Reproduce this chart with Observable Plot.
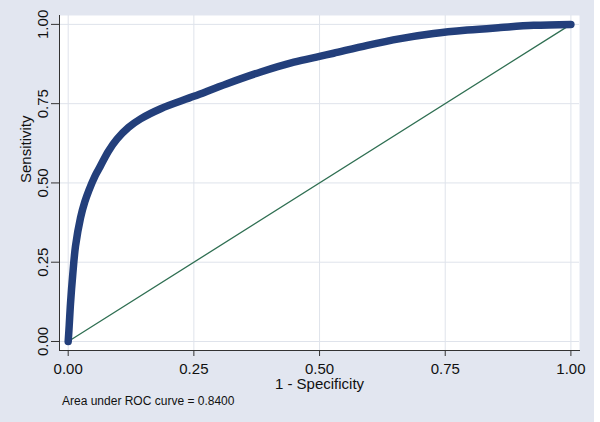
<!DOCTYPE html>
<html>
<head>
<meta charset="utf-8">
<script src="https://cdn.jsdelivr.net/npm/d3@7"></script>
<script src="https://cdn.jsdelivr.net/npm/@observablehq/plot@0.6"></script>
<style>
  html, body { margin: 0; padding: 0; background: #ffffff; }
  #fig { width: 594px; height: 422px; background: #e2e6f0; position: relative; overflow: hidden;
         font-family: "Liberation Sans", Arial, Helvetica, sans-serif; }
  #fig svg { display: block; }
  #caption { margin: 2.3px 0 0 62px; font-size: 12px; line-height: 14px; color: #111; white-space: pre; }
</style>
</head>
<body>
<div id="fig"></div>
<script>
// ROC curve: 1 - specificity (false positive rate) vs sensitivity
const fpr = [0, 0.002, 0.0046, 0.009, 0.0145, 0.0245, 0.033, 0.041, 0.054, 0.064, 0.08, 0.097, 0.12, 0.144, 0.184, 0.25, 0.316, 0.383, 0.449, 0.5, 0.528, 0.595, 0.661, 0.727, 0.794, 0.86, 0.926, 1];
const tpr = [0, 0.05, 0.12, 0.21, 0.30, 0.39, 0.44, 0.476, 0.524, 0.553, 0.60, 0.638, 0.675, 0.702, 0.734, 0.773, 0.813, 0.85, 0.881, 0.899, 0.909, 0.934, 0.955, 0.971, 0.982, 0.990, 0.997, 1];
// reference (chance) line
const refX = [0, 1];
const refY = [0, 1];
// ticks
const tickValues = [0, 0.25, 0.5, 0.75, 1];
const tickLabels = ["0.00", "0.25", "0.50", "0.75", "1.00"];
const xTitle = "1 - Specificity";
const yTitle = "Sensitivity";
const caption = "Area under ROC curve = 0.8400";

const roc = fpr.map((x, i) => ({x, y: tpr[i]}));
const ref = refX.map((x, i) => ({x, y: refY[i]}));
const fmt = d => tickLabels[tickValues.indexOf(d)];

const chart = Plot.plot({
  width: 594,
  height: 392,
  marginLeft: 59,
  marginRight: 15,
  marginTop: 15,
  marginBottom: 42,
  style: {background: "transparent", fontFamily: '"Liberation Sans", Arial, Helvetica, sans-serif', fontSize: "15px", color: "#111"},
  x: {domain: [-0.0173, 1.0171]},
  y: {domain: [-0.0284, 1.028]},
  marks: [
    Plot.frame({fill: "white", stroke: "none"}),
    Plot.gridX(tickValues, {stroke: "#dfe3eb", strokeOpacity: 1, strokeWidth: 1}),
    Plot.gridY(tickValues, {stroke: "#dfe3eb", strokeOpacity: 1, strokeWidth: 1}),
    Plot.frame({anchor: "left", stroke: "#333"}),
    Plot.frame({anchor: "bottom", stroke: "#333"}),
    Plot.axisX(tickValues, {tickSize: 6, tickPadding: 6.5, tickFormat: fmt, stroke: "#333", fill: "#111", fontSize: 15, label: null}),
    Plot.axisY(tickValues, {tickSize: 8, tickPadding: 4, tickRotate: -90, tickFormat: fmt, stroke: "#333", fill: "#111", fontSize: 15, label: null}),
    Plot.text([xTitle], {frameAnchor: "bottom", dy: 38.5, lineAnchor: "bottom", fontSize: 15, fill: "#111"}),
    Plot.text([yTitle], {frameAnchor: "left", dx: -28.5, rotate: -90, lineAnchor: "bottom", fontSize: 15, fill: "#111"}),
    Plot.line(ref, {x: "x", y: "y", stroke: "#2f6f52", strokeWidth: 1.3}),
    Plot.line(roc, {x: "x", y: "y", stroke: "#233f7b", strokeWidth: 7.5, curve: "catmull-rom", strokeLinecap: "round", strokeLinejoin: "round"})
  ]
});

const fig = document.getElementById("fig");
fig.appendChild(chart);
const cap = document.createElement("div");
cap.id = "caption";
cap.textContent = caption;
fig.appendChild(cap);
</script>
</body>
</html>
